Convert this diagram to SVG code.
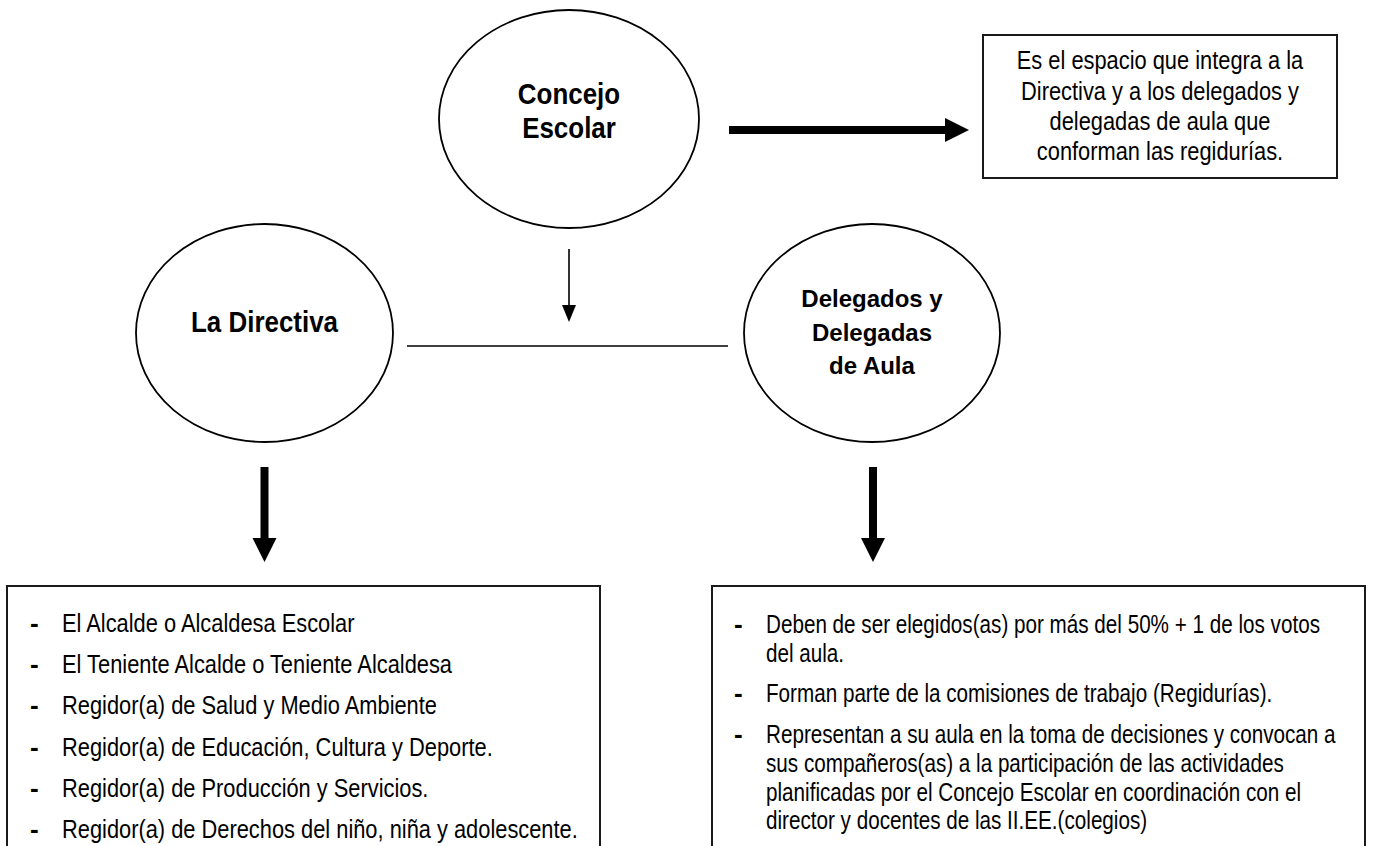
<svg xmlns="http://www.w3.org/2000/svg" width="1374" height="846" viewBox="0 0 1374 846">
<style>
.bg{fill:#ffffff}
.node{fill:#ffffff;stroke:#000;stroke-width:1.8}
.box{fill:#ffffff;stroke:#1a1a1a;stroke-width:2}
.title{font-family:"Liberation Sans",Arial,sans-serif;font-weight:bold;font-size:30px;fill:#000;text-anchor:middle}
.title2{font-family:"Liberation Sans",Arial,sans-serif;font-weight:bold;font-size:24px;fill:#000;text-anchor:middle}
.txt{font-family:"Liberation Sans",Arial,sans-serif;font-size:26px;fill:#000}
.ctr{text-anchor:middle}
.dash{font-family:"Liberation Sans",Arial,sans-serif;font-weight:bold;font-size:26px;fill:#000}
.thick{stroke:#000;stroke-width:8;fill:none}
.thin{stroke:#000;stroke-width:1.6;fill:none}
</style>
<defs>
<marker id="bighead" markerUnits="userSpaceOnUse" markerWidth="24" markerHeight="24" refX="0" refY="12" orient="auto" overflow="visible">
<path d="M0,0 L24,12 L0,24 Z" fill="#000"/>
</marker>
<marker id="smallhead" markerUnits="userSpaceOnUse" markerWidth="17" markerHeight="14" refX="0" refY="7" orient="auto" overflow="visible">
<path d="M0,0 L17,7 L0,14 Z" fill="#000"/>
</marker>
</defs>
<rect class="bg" x="0" y="0" width="1374" height="846"/>

<g id="connectors">
<line class="thick" x1="729" y1="130" x2="945" y2="130" marker-end="url(#bighead)"/>
<line class="thin" x1="569" y1="249" x2="569" y2="305" marker-end="url(#smallhead)"/>
<line class="thin" x1="407" y1="346" x2="728" y2="346" stroke-width="2"/>
<line class="thick" x1="264.5" y1="467" x2="264.5" y2="538" marker-end="url(#bighead)"/>
<line class="thick" x1="873" y1="467" x2="873" y2="538" marker-end="url(#bighead)"/>
</g>

<g id="concejo">
<ellipse class="node" cx="569" cy="119" rx="130" ry="109"/>
<text class="title" transform="translate(569,104) scale(0.865,1)">Concejo</text>
<text class="title" transform="translate(569,138) scale(0.865,1)">Escolar</text>
</g>

<g id="descripcion">
<rect class="box" x="983" y="35" width="354" height="143"/>
<text class="txt ctr" transform="translate(1160,69) scale(0.84,1)">Es el espacio que integra a la</text>
<text class="txt ctr" transform="translate(1160,99.5) scale(0.84,1)">Directiva y a los delegados y</text>
<text class="txt ctr" transform="translate(1160,130) scale(0.84,1)">delegadas de aula que</text>
<text class="txt ctr" transform="translate(1160,160) scale(0.84,1)">conforman las regidurías.</text>
</g>

<g id="directiva">
<ellipse class="node" cx="264.5" cy="333" rx="128.5" ry="109"/>
<text class="title" transform="translate(264.5,332) scale(0.865,1)">La Directiva</text>
</g>

<g id="delegados">
<ellipse class="node" cx="872" cy="333" rx="128" ry="109"/>
<text class="title2" x="872" y="307">Delegados y</text>
<text class="title2" x="872" y="341">Delegadas</text>
<text class="title2" x="872" y="374">de Aula</text>
</g>

<g id="lista-directiva">
<path class="box" d="M7,850 L7,586 L600,586 L600,850"/>
<text class="dash" x="30" y="632">-</text>
<text class="txt" transform="translate(62,632) scale(0.84,1)">El Alcalde o Alcaldesa Escolar</text>
<text class="dash" x="30" y="673">-</text>
<text class="txt" transform="translate(62,673) scale(0.84,1)">El Teniente Alcalde o Teniente Alcaldesa</text>
<text class="dash" x="30" y="714">-</text>
<text class="txt" transform="translate(62,714) scale(0.84,1)">Regidor(a) de Salud y Medio Ambiente</text>
<text class="dash" x="30" y="756">-</text>
<text class="txt" transform="translate(62,756) scale(0.84,1)">Regidor(a) de Educación, Cultura y Deporte.</text>
<text class="dash" x="30" y="797">-</text>
<text class="txt" transform="translate(62,797) scale(0.84,1)">Regidor(a) de Producción y Servicios.</text>
<text class="dash" x="30" y="838">-</text>
<text class="txt" transform="translate(62,838) scale(0.84,1)">Regidor(a) de Derechos del niño, niña y adolescente.</text>
</g>

<g id="lista-delegados">
<path class="box" d="M712,850 L712,586 L1365,586 L1365,850"/>
<text class="dash" x="734" y="633">-</text>
<text class="txt" transform="translate(766,633) scale(0.795,1)">Deben de ser elegidos(as) por más del 50% + 1 de los votos</text>
<text class="txt" transform="translate(766,662) scale(0.795,1)">del aula.</text>
<text class="dash" x="734" y="702">-</text>
<text class="txt" transform="translate(766,702) scale(0.795,1)">Forman parte de la comisiones de trabajo (Regidurías).</text>
<text class="dash" x="734" y="743">-</text>
<text class="txt" transform="translate(766,743) scale(0.795,1)">Representan a su aula en la toma de decisiones y convocan a</text>
<text class="txt" transform="translate(766,772) scale(0.795,1)">sus compañeros(as) a la participación de las actividades</text>
<text class="txt" transform="translate(766,801) scale(0.795,1)">planificadas por el Concejo Escolar en coordinación con el</text>
<text class="txt" transform="translate(766,829) scale(0.795,1)">director y docentes de las II.EE.(colegios)</text>
</g>
</svg>
